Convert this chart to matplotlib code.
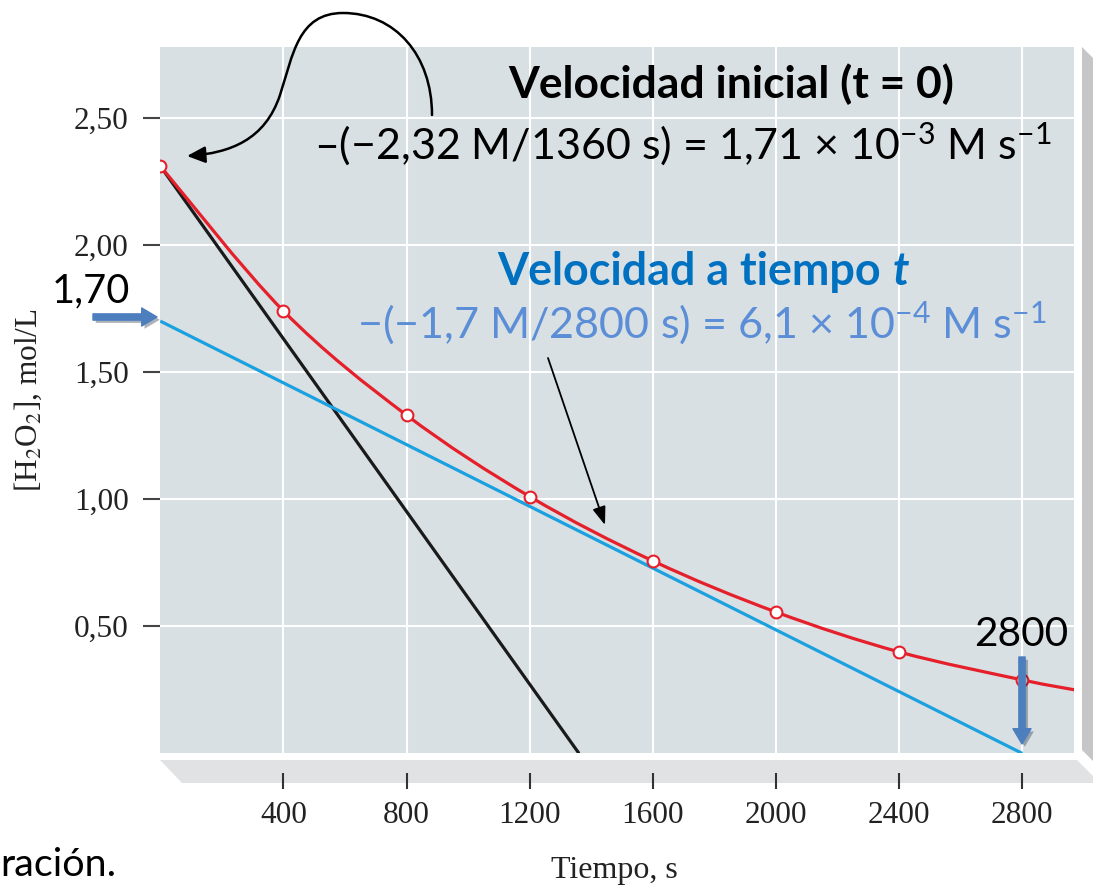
import numpy as np
import matplotlib
matplotlib.use("Agg")
import matplotlib.pyplot as plt
from matplotlib import font_manager
from matplotlib.path import Path
from matplotlib.patches import PathPatch, Polygon, FancyArrowPatch, ArrowStyle
import matplotlib.patheffects as pe

# ---------------- data ----------------
time_s = [0, 400, 800, 1200, 1600, 2000, 2400, 2800]
conc_M = [2.31, 1.74, 1.33, 1.01, 0.757, 0.556, 0.399, 0.289]
tail_time_s = [2970]
tail_conc_M = [0.25]
tangent0_t = [0, 1360]
tangent0_c = [2.31, 0.0]
tangent_t_t = [0, 2800]
tangent_t_c = [1.70, 0.0]
xtick_vals = [400, 800, 1200, 1600, 2000, 2400, 2800]
xtick_labels = ["400", "800", "1200", "1600", "2000", "2400", "2800"]
ytick_vals = [0.5, 1.0, 1.5, 2.0, 2.5]
ytick_labels = ["0,50", "1,00", "1,50", "2,00", "2,50"]

# ---------------- fonts ----------------
names = {f.name for f in font_manager.fontManager.ttflist}
if "Liberation Sans Narrow" in names:
    SANS = "Liberation Sans Narrow"
elif "Lato" in names:
    SANS = "Lato"
else:
    SANS = "DejaVu Sans"
SERIF = "Liberation Serif"
plt.rcParams["font.family"] = [SERIF, "DejaVu Serif"]
plt.rcParams["mathtext.fontset"] = "custom"
plt.rcParams["mathtext.rm"] = SANS
plt.rcParams["mathtext.it"] = SANS + ":italic"
plt.rcParams["mathtext.bf"] = SANS + ":bold"

W, H = 1093, 885
fig = plt.figure(figsize=(W / 100, H / 100), dpi=100)
fig.patch.set_facecolor("white")


def fx(x):
    return x / W


def fy(y):
    return 1 - y / H


RED = "#e5202b"
CYAN = "#1ba0e0"
BLACK = "#1a1a1a"
ARROW_BLUE = "#4d7ebe"

# ---------------- 3D-ish panels ----------------
fig.add_artist(Polygon([(fx(160), fy(760)), (fx(1077), fy(760)), (fx(1100), fy(783)), (fx(182), fy(783))],
                       closed=True, transform=fig.transFigure, facecolor="#e1e2e4", edgecolor="none", zorder=0))
fig.add_artist(Polygon([(fx(1082), fy(47)), (fx(1105), fy(70)), (fx(1105), fy(773)), (fx(1082), fy(750))],
                       closed=True, transform=fig.transFigure, facecolor="#c6c6c8", edgecolor="none", zorder=0))

# ---------------- axes ----------------
ax = fig.add_axes([fx(160.3), fy(753.4), (1074 - 160.3) / W, (753.4 - 47) / H])
ax.set_facecolor("#d8e0e3")
ax.set_xlim(0, 2968)
ax.set_ylim(0, 2.778)
for s in ax.spines.values():
    s.set_visible(False)
ax.spines["bottom"].set_position(("outward", 20 * 0.72))
ax.set_xticks(xtick_vals, xtick_labels)
ax.set_yticks(ytick_vals, ytick_labels)
ax.tick_params(axis="x", direction="out", length=16 * 0.72, width=1.5, color="#333333",
               pad=8.5, labelsize=22.5, labelcolor="#222222")
ax.tick_params(axis="y", direction="out", length=17 * 0.72, width=1.5, color="#444444",
               pad=10.5, labelsize=22.5, labelcolor="#222222")
ax.grid(True, color="white", lw=1.5)
ax.set_axisbelow(True)

# tangent lines
ax.plot(tangent0_t, tangent0_c, color=BLACK, lw=2.3, zorder=3, solid_capstyle="butt")
ax.plot(tangent_t_t, tangent_t_c, color=CYAN, lw=2.3, zorder=3, solid_capstyle="butt")

# smooth concentration curve (Catmull-Rom as cubic Bezier through the data)
P = np.array(list(zip(time_s + tail_time_s, conc_M + tail_conc_M)), dtype=float)
verts = [P[0]]
codes = [Path.MOVETO]
for i in range(len(P) - 1):
    p0 = P[i - 1] if i > 0 else P[i]
    p3 = P[i + 2] if i + 2 < len(P) else P[i + 1]
    c1 = P[i] + (P[i + 1] - p0) / 6.0
    c2 = P[i + 1] - (p3 - P[i]) / 6.0
    verts += [c1, c2, P[i + 1]]
    codes += [Path.CURVE4] * 3
ax.add_patch(PathPatch(Path(verts, codes), fill=False, edgecolor=RED, lw=2.3, zorder=4))
ax.plot(time_s, conc_M, "o", mfc="white", mec=RED, ms=8.5, mew=1.5, zorder=5)

# ---------------- texts ----------------
renderer = fig.canvas.get_renderer()


def fit_text(x_left, baseline, width, s, **kw):
    t = fig.text(fx(x_left), fy(baseline), s, ha="left", va="baseline", **kw)
    bb = t.get_window_extent(renderer)
    t.set_fontsize(t.get_fontsize() * width / bb.width)
    return t


fit_text(508, 98, 445, "Velocidad inicial (t = 0)", family=SANS, weight="bold", color="black", fontsize=30)
fit_text(314, 159, 738, "\u2013(\u22122,32 M/1360 s) = 1,71 \u00d7 10$^{\u22123}$ M s$^{\u22121}$",
         family=SANS, color="black", fontsize=30, math_fontfamily="custom")
t1 = fit_text(497, 285, 384, "Velocidad a tiempo", family=SANS, weight="bold", color="#0070c0", fontsize=30)
fig.text(fx(893), fy(285), "t", family=SANS, weight="bold", style="italic", color="#0070c0",
         fontsize=t1.get_fontsize(), ha="left", va="baseline")
fit_text(357, 338, 690, "\u2212(\u22121,7 M/2800 s) = 6,1 \u00d7 10$^{\u22124}$ M s$^{\u22121}$",
         family=SANS, color="#5b8ed6", fontsize=30, math_fontfamily="custom")
fit_text(52, 302, 78, "1,70", family=SANS, color="black", fontsize=30)
fit_text(974, 646, 94, "2800", family=SANS, color="black", fontsize=30)
fit_text(0, 876, 116, "raci\u00f3n.", family=SANS, color="black", fontsize=30)

# axis labels
fig.text(fx(614), fy(878), "Tiempo, s", family=SERIF, fontsize=23, color="#222222", ha="center", va="baseline")
fig.text(fx(28), fy(400), "[H$_2$O$_2$], mol/L", family=SERIF, fontsize=22.5, color="#222222",
         ha="center", va="center", rotation=90, math_fontfamily="stix")

# ---------------- arrows ----------------
curve = Path([(fx(432), fy(115)), (fx(432), fy(55)), (fx(395), fy(13)), (fx(343), fy(13)),
              (fx(298), fy(13)), (fx(293), fy(55)), (fx(280), fy(95)),
              (fx(265), fy(140)), (fx(230), fy(153)), (fx(187), fy(156))],
             [Path.MOVETO, Path.CURVE4, Path.CURVE4, Path.CURVE4,
              Path.CURVE4, Path.CURVE4, Path.CURVE4,
              Path.CURVE4, Path.CURVE4, Path.CURVE4])
fig.add_artist(FancyArrowPatch(path=curve, arrowstyle="-|>,head_length=0.55,head_width=0.25",
                               mutation_scale=20, lw=1.8, color="black", shrinkA=0, shrinkB=0,
                               transform=fig.transFigure, zorder=6))
fig.add_artist(FancyArrowPatch((fx(548), fy(358)), (fx(605), fy(525)),
                               arrowstyle="-|>,head_length=0.55,head_width=0.2",
                               mutation_scale=20, lw=1.3, color="black", shrinkA=0, shrinkB=0,
                               transform=fig.transFigure, zorder=6))

shadow = [pe.SimplePatchShadow(offset=(2, -2), alpha=0.35), pe.Normal()]
simple = ArrowStyle.Simple(head_length=1.1, head_width=1.3, tail_width=0.45)
fig.add_artist(FancyArrowPatch((fx(93), fy(317)), (fx(157), fy(317)), arrowstyle=simple,
                               mutation_scale=10, color=ARROW_BLUE, shrinkA=0, shrinkB=0,
                               transform=fig.transFigure, zorder=7, path_effects=shadow))
fig.add_artist(FancyArrowPatch((fx(1022), fy(657)), (fx(1022), fy(744)), arrowstyle=simple,
                               mutation_scale=10, color=ARROW_BLUE, shrinkA=0, shrinkB=0,
                               transform=fig.transFigure, zorder=7, path_effects=shadow))

fig.savefig("out.png", dpi=100)
